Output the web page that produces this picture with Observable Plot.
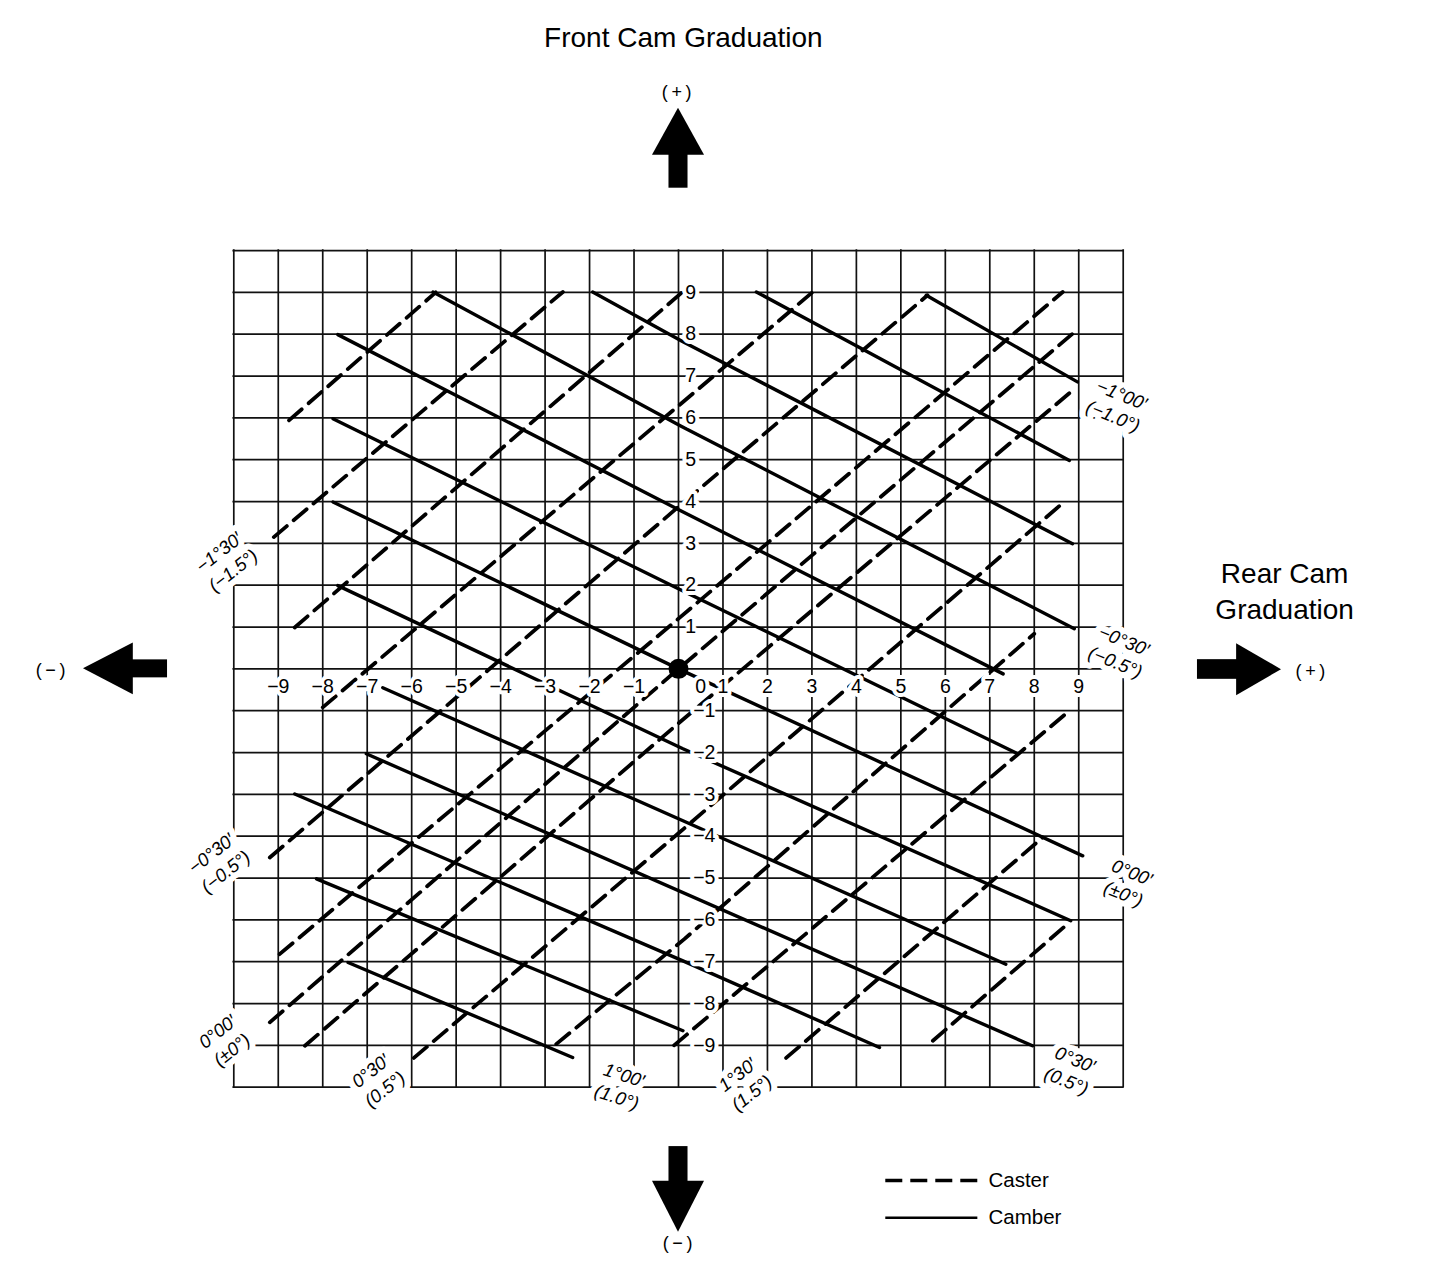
<!DOCTYPE html>
<html>
<head>
<meta charset="utf-8">
<script src="https://cdn.jsdelivr.net/npm/d3@7"></script>
<script src="https://cdn.jsdelivr.net/npm/@observablehq/plot@0.6"></script>
<style>
  html, body { margin: 0; padding: 0; background: #fff; }
  #chart { width: 1440px; height: 1280px; }
</style>
</head>
<body>
<div id="chart"></div>
<script>
// ---------------- DATA (grid units: rear cam graduation x, front cam graduation y) ----------------
const gridValues = d3.range(-10, 11);
const xTickValues = [-9, -8, -7, -6, -5, -4, -3, -2, -1, 0, 1, 2, 3, 4, 5, 6, 7, 8, 9];
const yTickValues = [9, 8, 7, 6, 5, 4, 3, 2, 1, -1, -2, -3, -4, -5, -6, -7, -8, -9];
const origin = [{ x: 0, y: 0 }];

// Camber lines (solid), polylines
const camberLines = [
  [[5.57, 8.93], [8.97, 6.86]],
  [[1.75, 9.01], [8.79, 4.98]],
  [[-1.93, 9.01], [0.1, 7.82], [8.86, 2.99]],
  [[-5.52, 9.01], [0.06, 5.8], [8.9, 0.96]],
  [[-7.66, 7.99], [0.05, 3.78], [7.3, -0.12]],
  [[-7.77, 5.98], [0.1, 1.86], [7.63, -2.03]],
  [[-7.77, 3.99], [0, 0], [9.09, -4.47]],
  [[-7.66, 1.99], [0.1, -1.91], [8.82, -6.02]],
  [[-6.65, -0.45], [0.1, -3.63], [7.36, -7.06]],
  [[-7.02, -2.03], [7.96, -9.01]],
  [[-8.63, -2.99], [0.1, -6.98], [4.52, -9.05]],
  [[-8.14, -5.02], [0.1, -8.65]],
  [[-7.43, -7.02], [-2.38, -9.29]]
];

// Caster lines (dashed)
const casterLines = [
  [[-8.76, 5.94], [-5.46, 9.0]],
  [[-9.1, 3.15], [-2.6, 9.01]],
  [[-8.63, 0.99], [0.08, 9.0]],
  [[-8.0, -0.92], [3.02, 9.01]],
  [[-9.19, -4.51], [-0.05, 3.83], [5.6, 8.93]],
  [[-8.97, -6.82], [0, 1.2], [8.64, 9.01]],
  [[-9.19, -8.45], [0, 0], [8.86, 8.01]],
  [[-8.4, -9.01], [0, -1.3], [8.8, 6.6]],
  [[-5.95, -9.3], [0, -3.93], [8.67, 3.99]],
  [[-2.75, -8.97], [0.13, -6.46], [8.0, 0.84]],
  [[-0.1, -9.0], [8.79, -1.0]],
  [[2.42, -9.3], [8.19, -4.03]],
  [[5.72, -8.89], [8.79, -6.06]]
];

const camberLabelTexts = ["−1°00′\n(−1.0°)", "−0°30′\n(−0.5°)", "0°00′\n(±0°)", "0°30′\n(0.5°)"];
const casterLabelTexts = ["−1°30′\n(−1.5°)", "−0°30′\n(−0.5°)", "0°00′\n(±0°)", "0°30′\n(0.5°)", "1°00′\n(1.0°)", "1°30′\n(1.5°)"];
const titleText = "Front Cam Graduation";
const sideTitleText = "Rear Cam\nGraduation";
const legendNames = ["Caster", "Camber"];

// ---------------- LAYOUT (placement only) ----------------
const camberLabelPos = [
  { x: 9.88, y: 6.32, r: 22 }, { x: 9.93, y: 0.44, r: 22 },
  { x: 10.11, y: -5.1, r: 22 }, { x: 8.83, y: -9.57, r: 22 }
];
const casterLabelPos = [
  { x: -10.19, y: 2.59, r: -38 }, { x: -10.36, y: -4.61, r: -38 },
  { x: -10.22, y: -8.87, r: -38 }, { x: -6.78, y: -9.81, r: -38 },
  { x: -1.3, y: -9.95, r: 18 }, { x: 1.47, y: -9.9, r: -38 }
];

const fmt = d => d < 0 ? "−" + Math.abs(d) : String(d);
const toPts = (lines, key) => lines.flatMap((pts, i) => pts.map(([x, y]) => ({ x, y, id: key + i })));

// arrows
const upHead = [{ x: -0.585, y1: 12.28, y2: 12.28 }, { x: 0, y1: 12.28, y2: 13.4 }, { x: 0.585, y1: 12.28, y2: 12.28 }];
const downHead = [{ x: -0.585, y1: -12.25, y2: -12.25 }, { x: 0, y1: -12.25, y2: -13.47 }, { x: 0.585, y1: -12.25, y2: -12.25 }];
const leftHead = [{ y: -0.62, x1: -12.26, x2: -12.26 }, { y: 0, x1: -12.26, x2: -13.38 }, { y: 0.62, x1: -12.26, x2: -12.26 }];
const rightHead = [{ y: -0.64, x1: 12.55, x2: 12.55 }, { y: -0.02, x1: 12.55, x2: 13.56 }, { y: 0.6, x1: 12.55, x2: 12.55 }];
const shafts = [
  { x1: -0.214, x2: 0.214, y1: 11.49, y2: 12.3 },
  { x1: -0.214, x2: 0.214, y1: -11.42, y2: -12.27 },
  { x1: -12.28, x2: -11.49, y1: -0.215, y2: 0.215 },
  { x1: 11.67, x2: 12.57, y1: -0.25, y2: 0.22 }
];
const signLabels = [
  { x: -0.04, y: 13.78, t: "(\u2009+\u2009)" },
  { x: -14.12, y: -0.04, t: "(\u2009−\u2009)" },
  { x: 14.21, y: -0.06, t: "(\u2009+\u2009)" },
  { x: -0.02, y: -13.74, t: "(\u2009−\u2009)" }
];

const halo = { stroke: "white", strokeWidth: 8, strokeLinejoin: "round", fill: "black" };

const chart = Plot.plot({
  width: 1440,
  height: 1280,
  margin: 0,
  x: { domain: [-15.246, 17.135], axis: null },
  y: { domain: [-14.621, 15.977], axis: null },
  style: { fontFamily: "'Liberation Sans', Arial, Helvetica, sans-serif", background: "white", color: "black" },
  marks: [
    // grid
    Plot.ruleX(gridValues, { x: d => d, y1: -10, y2: 10, stroke: "#111", strokeWidth: 1.7, strokeLinecap: "square" }),
    Plot.ruleY(gridValues, { y: d => d, x1: -10, x2: 10, stroke: "#111", strokeWidth: 1.7, strokeLinecap: "square" }),
    // camber (solid)
    Plot.line(toPts(camberLines, "m"), { x: "x", y: "y", z: "id", stroke: "black", strokeWidth: 3.4 }),
    // caster (dashed)
    Plot.line(toPts(casterLines, "c"), { x: "x", y: "y", z: "id", stroke: "black", strokeWidth: 3.8, strokeDasharray: "17,9" }),
    // tick labels
    Plot.text(xTickValues, { x: d => d === 0 ? 0.5 : d, y: -0.43, text: fmt, fontSize: 19.5, ...halo }),
    Plot.text(yTickValues.filter(d => d > 0), { x: 0.15, y: d => d, text: fmt, fontSize: 19.5, textAnchor: "start", ...halo }),
    Plot.text(yTickValues.filter(d => d < 0), { x: 0.83, y: d => d, text: fmt, fontSize: 19.5, textAnchor: "end", ...halo }),
    // origin dot
    Plot.dot(origin, { x: "x", y: "y", r: 10, fill: "black" }),
    // line labels
    Plot.text(camberLabelTexts, { x: (d, i) => camberLabelPos[i].x, y: (d, i) => camberLabelPos[i].y, rotate: (d, i) => camberLabelPos[i].r, text: d => d, fontSize: 18.5, fontStyle: "italic", lineHeight: 1.25, ...halo, strokeWidth: 12 }),
    Plot.text(casterLabelTexts, { x: (d, i) => casterLabelPos[i].x, y: (d, i) => casterLabelPos[i].y, rotate: (d, i) => casterLabelPos[i].r, text: d => d, fontSize: 18.5, fontStyle: "italic", lineHeight: 1.25, ...halo, strokeWidth: 12 }),
    // arrows
    Plot.rect(shafts, { x1: "x1", x2: "x2", y1: "y1", y2: "y2", fill: "black" }),
    Plot.areaY(upHead, { x: "x", y1: "y1", y2: "y2", fill: "black" }),
    Plot.areaY(downHead, { x: "x", y1: "y1", y2: "y2", fill: "black" }),
    Plot.areaX(leftHead, { y: "y", x1: "x1", x2: "x2", fill: "black" }),
    Plot.areaX(rightHead, { y: "y", x1: "x1", x2: "x2", fill: "black" }),
    Plot.text(signLabels, { x: "x", y: "y", text: "t", fontSize: 18, fill: "black" }),
    // titles
    Plot.text([titleText], { x: 0.11, y: 15.07, text: d => d, fontSize: 28, fill: "black" }),
    Plot.text([sideTitleText], { x: 13.63, y: 1.9, text: d => d, fontSize: 28, lineHeight: 1.27, fill: "black" }),
    // legend
    Plot.link([legendNames[0]], { x1: 4.65, x2: 6.72, y1: -12.23, y2: -12.23, stroke: "black", strokeWidth: 3.6, strokeDasharray: "17,8" }),
    Plot.link([legendNames[1]], { x1: 4.65, x2: 6.72, y1: -13.12, y2: -13.12, stroke: "black", strokeWidth: 2.4 }),
    Plot.text(legendNames, { x: 6.97, y: (d, i) => i === 0 ? -12.23 : -13.12, text: d => d, fontSize: 20.5, textAnchor: "start", fill: "black" })
  ]
});

document.getElementById("chart").appendChild(chart);
</script>
</body>
</html>
